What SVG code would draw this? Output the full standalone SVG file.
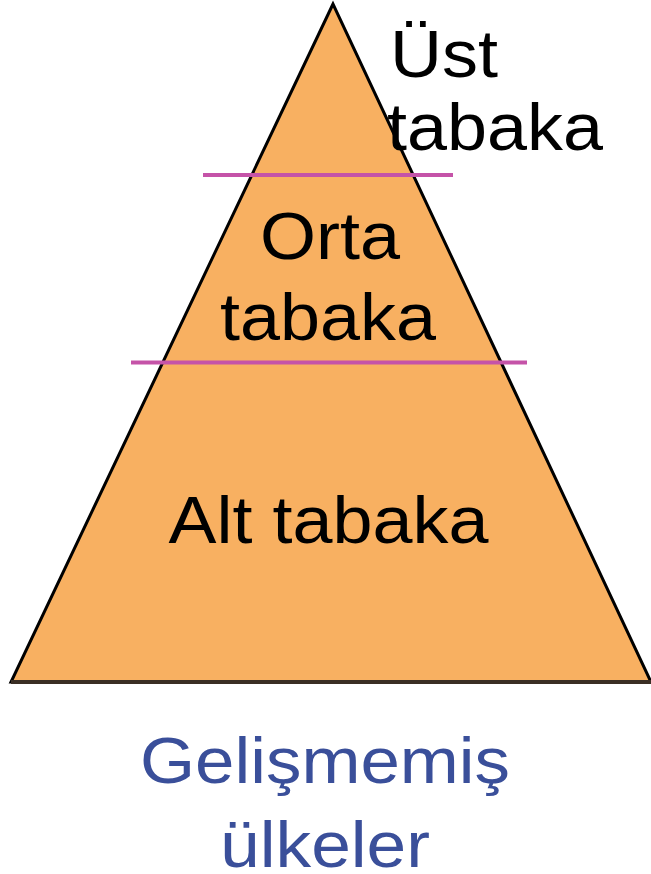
<svg xmlns="http://www.w3.org/2000/svg" width="651" height="874" viewBox="0 0 651 874">
<style>
.lbl{font-family:"Liberation Sans",Arial,sans-serif;font-size:66px;fill:#000;text-anchor:middle}
.cap{font-family:"Liberation Sans",Arial,sans-serif;font-size:65px;fill:#3a4f9a;text-anchor:middle}
.sep{stroke:#c553a8;stroke-width:4}
</style>
<rect width="651" height="874" fill="#fff"/>
<g id="pyramid">
<polygon points="333,4 11,682 651,682" fill="#f8b061" stroke="#000" stroke-width="3" stroke-linejoin="miter"/>
<line x1="11" y1="682" x2="651" y2="682" stroke="#3a2e24" stroke-width="4"/>
</g>
<g id="connectors">
<line class="sep" x1="203" y1="175" x2="453" y2="175"/>
<line class="sep" x1="131" y1="362.5" x2="527" y2="362.5"/>
</g>
<g id="ust">
<text class="lbl" x="444" y="77" textLength="108" lengthAdjust="spacingAndGlyphs">Üst</text>
<text class="lbl" x="495" y="150" textLength="216" lengthAdjust="spacingAndGlyphs">tabaka</text>
</g>
<g id="orta">
<text class="lbl" x="330" y="259" textLength="140" lengthAdjust="spacingAndGlyphs">Orta</text>
<text class="lbl" x="328" y="340" textLength="216" lengthAdjust="spacingAndGlyphs">tabaka</text>
</g>
<g id="alt">
<text class="lbl" x="328.5" y="543" textLength="320" lengthAdjust="spacingAndGlyphs">Alt tabaka</text>
</g>
<g id="caption">
<text class="cap" x="325" y="783" textLength="370" lengthAdjust="spacingAndGlyphs">Gelişmemiş</text>
<text class="cap" x="325" y="867" textLength="210" lengthAdjust="spacingAndGlyphs">ülkeler</text>
</g>
</svg>
